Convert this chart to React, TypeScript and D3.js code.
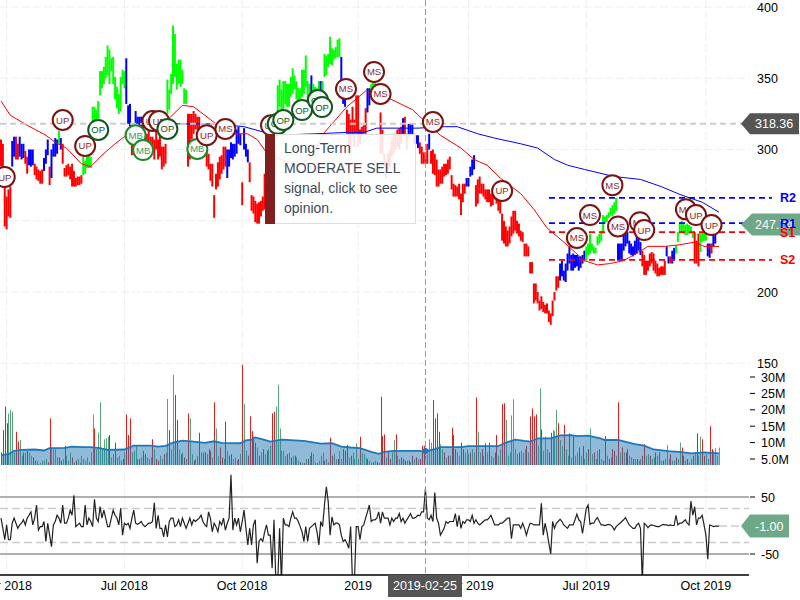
import React from "react";
import * as d3 from "d3";

// trading-day bars, index 0 is early April 2018
const priceHigh = [
  307,304,274,267,272,274,306,309,309,304,309,304,304,299,295,300,300,300,290,288,
  286,285,286,294,300,307,288,300,304,308,307,313,308,304,287,289,290,288,290,285,
  280,281,281,282,295,292,295,300,295,330,330,328,334,355,355,358,365,373,370,364,
  365,351,344,339,351,356,355,364,331,332,311,304,327,323,323,323,318,311,311,314,
  309,309,307,316,307,311,302,302,304,349,342,353,387,381,360,363,363,356,343,342,
  325,325,325,327,325,323,323,315,314,311,311,297,290,290,268,283,291,295,296,302,
  302,300,300,305,304,304,314,316,311,277,315,304,300,291,268,267,264,262,263,264,
  267,283,290,295,300,310,320,325,345,349,342,348,348,346,346,351,357,352,348,343,
  343,356,356,366,348,346,352,346,344,343,348,348,348,367,366,367,379,371,370,372,
  377,378,365,345,335,328,325,321,330,321,338,338,314,316,317,329,343,343,346,348,
  348,346,346,326,314,297,292,297,300,307,311,311,314,315,316,322,323,311,318,318,
  318,311,310,310,305,302,298,298,304,311,299,300,297,293,286,286,288,290,290,293,
  295,282,276,275,274,276,269,276,276,280,280,288,293,296,275,279,281,276,276,272,
  272,272,269,268,272,270,269,265,255,250,246,243,246,253,257,257,250,248,243,242,
  234,234,232,221,221,206,206,200,194,197,193,191,192,187,185,194,200,211,211,220,
  222,215,220,227,232,226,227,226,226,225,225,226,229,232,234,241,234,232,231,239,
  241,243,254,253,254,256,259,261,263,266,234,234,234,241,242,242,236,234,232,236,
  239,239,235,229,226,222,222,227,228,227,222,220,217,218,218,222,232,225,225,229,
  231,233,242,248,250,248,247,248,247,246,242,242,236,241,242,242,242,241,234,234,234,241,241,247,247,
];
const priceLow = [
  288,283,246,244,253,252,288,295,293,293,295,293,294,290,283,289,288,289,282,279,
  278,276,276,285,290,296,275,280,295,295,297,304,300,290,281,281,282,279,274,274,
  274,275,275,276,282,283,287,287,287,311,316,317,320,338,343,346,350,352,346,355,
  346,335,329,325,327,346,343,332,318,311,296,297,318,318,316,315,311,300,302,304,
  295,298,293,300,293,295,286,288,290,325,328,339,346,351,342,346,344,346,332,332,
  288,293,307,311,314,314,309,305,304,302,288,286,278,274,252,272,274,279,283,286,
  288,280,288,294,293,295,297,304,303,261,300,295,291,277,257,255,249,248,248,253,
  257,258,260,270,275,285,300,310,323,330,325,328,332,330,330,337,339,342,335,330,
  330,337,339,344,335,336,335,335,335,335,339,331,340,351,352,358,360,359,363,364,
  365,365,345,332,330,311,297,300,309,302,311,302,304,310,311,311,326,331,337,342,
  343,343,342,297,297,288,280,286,288,295,297,300,302,300,304,311,309,300,309,311,
  310,304,304,301,297,290,290,290,290,300,290,283,282,274,274,276,276,281,282,283,
  286,272,267,267,267,265,254,263,269,274,274,281,282,286,260,262,269,269,267,265,
  263,263,260,261,265,262,257,255,236,234,232,232,234,239,241,243,241,239,236,235,
  225,225,225,213,213,192,194,192,187,188,186,185,185,179,177,183,194,201,203,208,
  211,208,207,215,220,215,215,217,218,215,217,220,222,222,226,227,229,227,227,233,
  234,236,241,248,249,252,254,253,255,257,222,222,222,229,232,234,227,226,225,226,
  227,229,226,218,212,212,215,218,220,215,213,211,211,212,212,212,225,220,220,220,
  222,227,235,241,242,241,240,240,241,241,238,220,220,218,228,235,236,236,225,224,227,232,234,246,246,
];
// first bar of each colour run
const runStart = [0,6,8,10,13,15,18,23,26,27,31,32,33,44,67,70,72,77,89,100,121,129,130,133,148,166,167,171,172,182,185,196,198,203,215,216,218,221,222,224,229,230,249,254,299,313,330,343,356,358,359,361,371,374,378,380,381,383];
const runColor = ["r","b","r","b","r","b","r","b","r","b","g","b","r","g","b","r","b","r","g","r","b","r","b","r","g","b","g","b","g","b","r","b","g","r","b","r","b","r","b","r","b","r","b","r","b","g","b","r","b","r","b","g","r","g","b","r","b","r"];

const slowRedIdx = [0,5,14,24,29,35,43,48,54,61,66,75,90,97,103,109,115,125,132,137,143,150,160,167,173,185,195,209,220,229,235,246,253,260,267,278,285,292,301,312,319,326,333,341,346,355,362,371,376,384];
const slowRed = [334,324,317,310,305,301,290,288,296,304,309,316,322,331,330,324,318,311,311,307,296,293,288,297,312,330,341,335,328,317,310,301,293,289,280,269,258,245,235,222,219,220,222,228,232,232,233,235,232,232];
const slowBlueIdx = [89,114,130,141,146,168,185,194,201,223,237,244,255,264,278,287,296,303,312,328,342,353,364,375,384];
const slowBlue = [318,318,316,312,310,311,312,312,315,315,316,316,311,308,304,301,293,289,286,281,279,274,268,263,256];

// signed: above zero an up day, below zero a down day (millions)
const volume = [
  -7,-13.8,-21,-15.9,18.9,19.9,19.4,7,-13.3,-10.3,10.8,6,-7,7,-7.5,7,6,-5.5,-4.5,4.5,
  3.5,3.8,4.5,4.5,5,-4,-17.4,8.5,8,8,5.5,-5.5,-4.5,5,-9,6,4.5,7,-5.5,4,
  -4.5,5,3.8,6,5,4.5,5.5,4,7,18.6,-14.3,8,13,22.3,8,11,11.3,11.8,-12.3,5.5,
  6.5,-10,5.5,6,4.5,-5,7,-18.6,-12.3,-17.4,7,7.5,9.3,5,-5,5.5,-7.5,-6.5,5.5,5,
  5.5,-11,8,-5,-4.5,6,5,-6.5,7,23.3,-13.8,8,30.6,-24.5,-16.9,8,-6.5,7,-5.5,5,
  -18.9,17.4,6.5,-4.5,5,6,-13,7,-7,-7,6.5,-8,-7.5,5.5,-22.3,14.3,6,-8.5,-5.5,5,
  -16.4,7.5,-6,-6.5,5,5.5,4.5,-5,6.5,-33.7,21.7,7.5,-6,-18,-13.5,-11.8,-10,8.5,-6,7,
  -8,6.5,-7.5,8,9,-18.9,-19.4,21,27.6,14.3,7.5,7.5,6,-6.5,7,-5.5,6,-6,5.5,4.5,
  -4,3.8,-3.8,5,-5,6,-7,6.5,4,-3.7,4.5,6,7,-4.5,5,4,-11.5,-6,6.5,5,
  -5,7.5,5,-8,-7.5,-9.3,5.5,-6,7,5,9.8,5,-11.8,7,6.5,5.5,-5,4.5,4,-4,
  4.5,-4,3.8,-24,-12,-12.5,5.5,-7,-5,7,10.8,-12.5,6,5,-5.5,-5,-4.5,4.5,-4.5,4,
  -6,5,-5.5,5,-5,-9,-9,7.5,6.5,11,10,-23,-17.4,-18.9,-13.3,9.5,8,-7,5.5,-6,
  6,-14.5,-12.3,-8,7,6,-10,-8,7,8,6.5,-7,8,7,-23.8,13.3,7,-8,6,-9.8,
  7,-10,6,5.5,-7,-12.3,6,8,-21.7,-22,16.9,6,7,18.3,23.2,8,6.5,-7,7.5,7,
  8,-9,7,-18,-20.4,-18,-18.6,9,26.5,-14,7.5,11.8,8,-7,-13,13.8,13.5,20,-15.9,10.8,
  9,-15.4,8,6,-12.8,5.5,-12.3,6,7,-8.5,6,-9,5,7,-8,14.3,6.5,-7,5,7.5,
  -8,5,-4.5,-12,6,-5,5.5,-8,-7.5,6,-22.3,7,-8.5,7,-7,-8,6,5.5,-5,5,
  -5,4.5,5,-6,-9.5,6,6.5,-6,5,5.5,-7,6,-7,4.5,-4.5,5,9.3,5,-6.5,4.5,
  4.5,-5.5,5,10,-8.5,-6,4.5,-5,4,5,-6,7,-12.8,6,11.8,-11,-6,6.5,5,-15,-8,7.5,8.3,6,8.5,
];
const volumeAvgIdx = [0,4,7,11,18,23,26,34,38,44,48,53,57,66,69,71,80,84,88,92,97,103,109,114,118,128,131,134,136,141,144,150,162,171,177,182,187,192,198,202,205,210,223,227,232,235,246,250,266,269,275,280,283,287,294,299,305,308,314,321,323,330,339,344,349,357,364,369,376,384];
const volumeAvg = [6.2,6.5,7.5,7.8,7.9,7.6,8.3,8.4,8.8,8.6,8.6,8.3,7.8,7.9,8.6,9.1,9.1,8.8,9,10,10.6,10.3,9.9,10.4,9.9,9.8,10.7,10.9,11.6,10.8,10.3,10.9,10.5,9.7,9.8,8.8,8.5,8.3,7.2,6.6,7.2,7.5,7.5,7.3,8,8.6,8.6,8.9,8.9,9.8,10.9,10.5,10.3,11.3,11.3,12.2,12.3,12,12.1,11.2,10.8,10.8,9.5,9.1,7.9,7.4,7.1,6.7,7,6.7];

const oscillator = [
  13,-5,-25,1,-25,-25,4,13,4,-5,1,4,10,1,13,18,24,1,13,36,
  -8,-2,-2,7,-28,4,-17,-37,1,7,18,13,4,36,4,4,13,27,18,53,
  -2,1,4,-2,-2,36,1,13,7,-2,46,13,7,33,13,27,13,-2,-2,13,
  27,18,13,1,30,-17,4,1,4,-5,13,27,4,2,4,7,1,-2,1,4,
  4,7,40,-5,18,-5,-5,-20,1,-20,7,13,13,-2,1,10,-2,13,4,-5,
  4,13,1,10,7,10,13,18,7,1,-2,24,13,-11,4,-2,-11,7,1,13,
  -8,4,13,89,-8,13,1,13,-11,7,27,-5,-34,-5,-34,1,10,-66,-28,-23,-28,-11,1,-17,
  -17,-75,10,-100,-100,-5,-100,13,1,1,-2,13,24,13,13,7,-2,-11,-28,-2,
  -28,-5,-2,1,4,-11,-34,7,-2,36,68,42,-17,15,1,4,4,1,-17,-28,
  -25,-31,-40,-2,-100,-100,-2,-2,-25,-2,1,13,24,36,7,10,10,13,24,4,
  24,13,13,13,1,13,7,13,13,21,7,13,4,10,15,21,13,13,15,18,
  17,24,24,65,13,10,18,7,58,13,4,-17,-11,-5,7,4,7,7,7,21,
  -2,18,-5,7,4,10,10,7,18,4,10,4,1,4,7,10,10,13,18,10,
  1,1,1,4,4,7,10,13,13,-23,1,1,1,1,-5,4,-5,-17,-5,4,
  3,1,1,1,1,39,-17,4,-11,-31,-50,7,-5,4,7,11,7,1,-2,-5,
  1,1,1,10,20,10,7,-14,7,30,36,2,4,4,10,14,7,1,1,0,
  1,2,1,-2,-8,-2,1,4,7,10,14,7,1,-2,-5,-5,1,4,-5,-100,
  4,1,-4,0,1,0,-1,-2,-2,0,2,1,1,0,1,0,0,18,1,4,
  4,7,10,4,1,43,18,33,1,13,13,18,1,-17,-59,1,0,-2,-1,-1,-1,
];

const signalIdx = [2,33,45,52,72,76,81,84.5,89,105,110,120,144.4,148,151,161,169.5,171.7,184.5,199.5,203,231,268,308,315,327,330,341.7,344,366.3,371.7,380];
const signalPrice = [280.7,320.7,302.5,313.7,310,299.6,320,320,314.4,300.4,310,314.4,317,318,320.7,327.7,334.7,329.8,342.5,354.4,339,319.3,270.9,237.9,254,275,246,249,243.5,258,254,247];
const signalName = ["UP","UP","UP","OP","MB","MB","UP","UP","OP","MB","UP","MS","UP","OP","OP","OP","OP","OP","MS","MS","MS","MS","UP","MS","MS","MS","MS","MS","UP","MS","UP","UP"];

const pivotNames = ["R2","R1","S1","S2"];
const pivotValues = [266,248.4,242,222.5];

const tickIdx = [3,66,129,191,250,313,377];
const tickNames = ["Apr 2018","Jul 2018","Oct 2018","2019","Apr 2019","Jul 2019","Oct 2019"];
const priceTicks = [400,350,300,250,200,150];
const volumeTicks = [30,25,20,15,10,5];
const volumeTickNames = ["30M","25M","20M","15M","10M","5.0M"];
const oscTicks = [50,-50];
const oscGuides = [30,-30];
const tooltipLines = ["Long-Term","MODERATE SELL","signal, click to see","opinion."];

const CROSS_IDX = 227;
const FONT = "'Liberation Sans', Arial, sans-serif";
const barColors: Record<string, string> = { r: "#ff0000", b: "#0000ff", g: "#00ff00" };

const signalStyle = (name: string) => {
  if (name === "OP") return { stroke: "#14561f", text: "#14561f" };
  if (name === "MB") return { stroke: "#1d8a2c", text: "#3d9a5c" };
  return { stroke: "#7a1414", text: "#8a2a2a" };
};

const App = () => {
  const x = d3.scaleLinear().domain([0, 384]).range([1, 719]);
  const yPrice = d3.scaleLinear().domain([200, 400]).range([292, 7]);
  const yVol = d3.scaleLinear().domain([5, 30]).range([459, 377]);
  const yOsc = d3.scaleLinear().domain([-50, 50]).range([554, 497]);
  const volBase = 465;
  const plotRight = 749;

  const colorOf = (i: number) => {
    const run = d3.bisectRight(runStart, i) - 1;
    return barColors[runColor[run]];
  };

  const redLine = d3.line<number>().x((d) => x(d)).y((_, i) => yPrice(slowRed[i]));
  const blueLine = d3.line<number>().x((d) => x(d)).y((_, i) => yPrice(slowBlue[i]));
  const volLine = d3.line<number>().x((d) => x(d)).y((_, i) => yVol(volumeAvg[i]));
  const volArea = d3.area<number>().x((d) => x(d)).y0(volBase).y1((_, i) => yVol(volumeAvg[i]));
  const oscLine = d3.line<number>().x((_, i) => x(i)).y((d) => yOsc(d));

  const lastPriceY = yPrice(247.4);
  const crossPriceY = yPrice(318.36) + 0.5;
  const oscLastY = yOsc(-1);

  return (
    <svg width={800} height={600} style={{ position: "absolute", left: 0, top: 0, background: "#fff" }} fontFamily={FONT}>
      <defs>
        <clipPath id="plot">
          <rect x={0} y={0} width={plotRight} height={575} />
        </clipPath>
      </defs>

      {/* grid */}
      {priceTicks.map((t) => (
        <line key={t} x1={0} x2={plotRight} y1={yPrice(t)} y2={yPrice(t)} stroke="#eee" strokeWidth={1} strokeDasharray="8,3" />
      ))}
      {tickIdx.map((t) => (
        <line key={t} x1={x(t)} x2={x(t)} y1={0} y2={575} stroke="#eee" strokeWidth={1} strokeDasharray="8,3" />
      ))}

      {/* oscillator guides */}
      {oscTicks.map((t) => (
        <line key={t} x1={0} x2={plotRight} y1={yOsc(t)} y2={yOsc(t)} stroke="#b0b0b0" strokeWidth={2} />
      ))}
      {oscGuides.map((t) => (
        <line key={t} x1={0} x2={plotRight} y1={yOsc(t)} y2={yOsc(t)} stroke="#ccc" strokeWidth={1.5} strokeDasharray="8,4" />
      ))}

      {/* price bars */}
      {priceHigh.map((h, i) => (
        <line key={i} x1={x(i)} x2={x(i)} y1={yPrice(h)} y2={yPrice(priceLow[i])} stroke={colorOf(i)} strokeWidth={2} />
      ))}
      <path d={redLine(slowRedIdx) || ""} fill="none" stroke="#ff0000" strokeWidth={1} />
      <path d={blueLine(slowBlueIdx) || ""} fill="none" stroke="#0000ff" strokeWidth={1} />

      {/* pivots */}
      {pivotNames.map((name, i) => {
        const color = name[0] === "R" ? "#0000ff" : "#ff0000";
        return (
          <line key={name} x1={549} x2={772} y1={yPrice(pivotValues[i])} y2={yPrice(pivotValues[i])} stroke={color} strokeWidth={1.8} strokeDasharray="6,4" />
        );
      })}

      {/* volume */}
      {volume.map((v, i) => (
        <line key={i} x1={Math.round(x(i)) + 0.5} x2={Math.round(x(i)) + 0.5} y1={yVol(Math.abs(v))} y2={volBase} stroke={v < 0 ? "#e01f1f" : "#5aa67a"} strokeWidth={1} />
      ))}
      <path d={volArea(volumeAvgIdx) || ""} fill="#1f77b4" fillOpacity={0.5} />
      <path d={volLine(volumeAvgIdx) || ""} fill="none" stroke="#1f77b4" strokeWidth={1.8} />

      {/* oscillator */}
      <path d={oscLine(oscillator) || ""} fill="none" stroke="#222" strokeWidth={1.2} clipPath="url(#plot)" />
      <line x1={x(384)} x2={741} y1={oscLastY} y2={oscLastY} stroke="#ccc" strokeWidth={1.5} strokeDasharray="8,4" />

      {/* crosshair */}
      <line x1={0} x2={742} y1={crossPriceY} y2={crossPriceY} stroke="#ccc" strokeWidth={2} strokeDasharray="6,4" />
      <line x1={x(CROSS_IDX)} x2={x(CROSS_IDX)} y1={0} y2={575} stroke="#999" strokeWidth={1} strokeDasharray="6,3" />
      <circle cx={x(CROSS_IDX)} cy={451} r={3} fill="#1f77b4" />

      {/* signals */}
      {signalName.map((name, i) => {
        const s = signalStyle(name);
        const cx = x(signalIdx[i]);
        const cy = yPrice(signalPrice[i]);
        return (
          <g key={i}>
            <circle cx={cx} cy={cy} r={10} fill="#fff" fillOpacity={0.93} stroke={s.stroke} strokeWidth={2} />
            <text x={cx} y={cy + 3.5} textAnchor="middle" fontSize={9.5} fill={s.text}>{name}</text>
          </g>
        );
      })}

      {/* tooltip */}
      <rect x={265.5} y={134.5} width={150} height={89} fill="#fff" fillOpacity={0.88} stroke="#ddd" />
      <rect x={265} y={134} width={10} height={90} fill="#7a1616" fillOpacity={0.96} />
      {tooltipLines.map((line, i) => (
        <text key={line} x={284} y={153 + i * 20} fontSize={14} fill="#3c4a5a">{line}</text>
      ))}

      {/* axes */}
      <line x1={0} x2={plotRight} y1={575} y2={575} stroke="#000" strokeWidth={1.5} />
      {tickNames.map((name, i) => (
        <text key={name} x={x(tickIdx[i])} y={589.5} textAnchor="middle" fontSize={12.5} fill="#000">{name}</text>
      ))}
      {priceTicks.map((t) => (
        <text key={t} x={757} y={yPrice(t) + 4.5} fontSize={12.5} fill="#000">{t}</text>
      ))}
      {volumeTicks.map((t, i) => (
        <g key={t}>
          <line x1={750} x2={755} y1={yVol(t)} y2={yVol(t)} stroke="#000" />
          <text x={761} y={yVol(t) + 4.5} fontSize={12.5} fill="#000">{volumeTickNames[i]}</text>
        </g>
      ))}
      {oscTicks.map((t) => (
        <g key={t}>
          <line x1={750} x2={755} y1={yOsc(t)} y2={yOsc(t)} stroke="#000" />
          <text x={761} y={yOsc(t) + 4.5} fontSize={12.5} fill="#000">{t}</text>
        </g>
      ))}

      {/* value flags */}
      <path d={`M741,${crossPriceY} L750,${crossPriceY - 10.5} H799 V${crossPriceY + 10.5} H750 Z`} fill="#555" />
      <text x={755} y={crossPriceY + 4.5} fontSize={12.5} fill="#fff">318.36</text>
      <path d={`M741,${lastPriceY} L752,${lastPriceY - 11} H800 V${lastPriceY + 11} H752 Z`} fill="#6fa888" />
      <text x={755} y={lastPriceY + 4.5} fontSize={12.5} fill="#fff">247.74</text>
      <path d={`M741,${oscLastY} L750,${oscLastY - 11.5} H789 V${oscLastY + 11.5} H750 Z`} fill="#6fa888" />
      <text x={755} y={oscLastY + 4.5} fontSize={12.5} fill="#fff">-1.00</text>
      {pivotNames.map((name, i) => (
        <text key={name} x={780} y={yPrice(pivotValues[i]) + 4.5} fontSize={12.5} fontWeight="bold" fill={name[0] === "R" ? "#0000ff" : "#ff0000"}>{name}</text>
      ))}

      {/* date flag */}
      <rect x={388} y={575} width={74} height={22} fill="#555" />
      <text x={425} y={590} textAnchor="middle" fontSize={12.5} fill="#fff">2019-02-25</text>
    </svg>
  );
};

export default App;
